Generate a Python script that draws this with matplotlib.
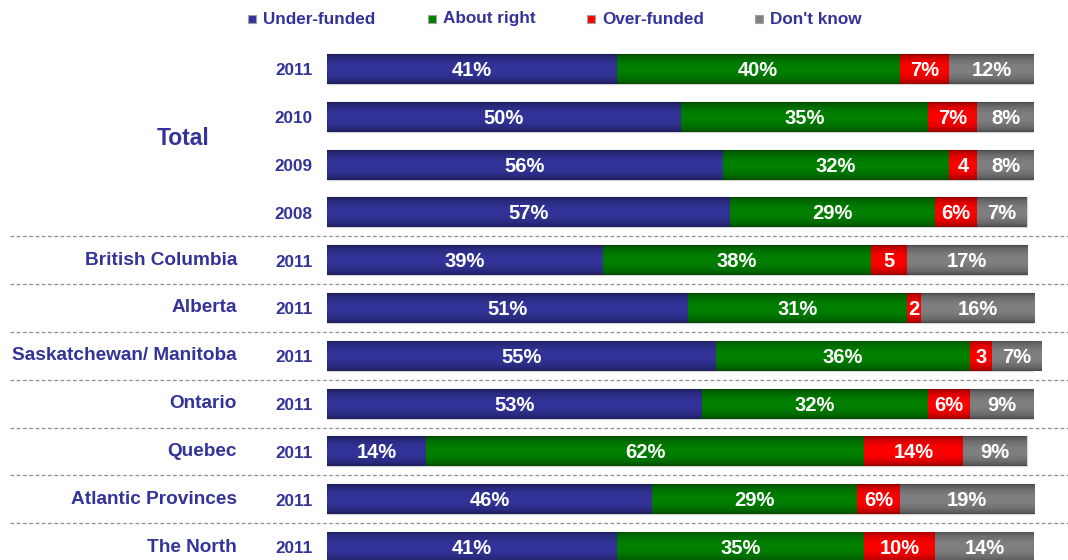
import numpy as np
import matplotlib
matplotlib.use("Agg")
import matplotlib.pyplot as plt
from matplotlib.colors import to_rgb
import matplotlib.transforms as mtransforms

plt.rcParams['font.family'] = ['Liberation Sans', 'DejaVu Sans']

series = ["Under-funded", "About right", "Over-funded", "Don't know"]
years = ["2011", "2010", "2009", "2008", "2011", "2011", "2011", "2011", "2011", "2011", "2011"]
groups = ["Total", "British Columbia", "Alberta", "Saskatchewan/ Manitoba", "Ontario",
          "Quebec", "Atlantic Provinces", "The North"]
under = [41, 50, 56, 57, 39, 51, 55, 53, 14, 46, 41]
right = [40, 35, 32, 29, 38, 31, 36, 32, 62, 29, 35]
over = [7, 7, 4, 6, 5, 2, 3, 6, 14, 6, 10]
dontknow = [12, 8, 8, 7, 17, 16, 7, 9, 9, 19, 14]

colors = ["#333399", "#008000", "#FF0000", "#808080"]
txtcol = "#333399"

W, H = 1068, 560
fig = plt.figure(figsize=(W / 100, H / 100), dpi=100)
row0, step = 69, 47.8
x0, pxpct = 327, 7.07
ax = fig.add_axes([x0 / W, 0, 100 * pxpct / W, 1])
ax.set_xlim(0, 100)
ax.set_ylim((H - row0) / step, -row0 / step)
ax.axis('off')

n = len(years)
ypos = np.arange(n)
bh = 30 / step
data = [under, right, over, dontknow]
left = np.zeros(n)
prof = np.linspace(0, 1, 64)
shade = 0.55 + 0.45 * np.sin(np.pi * prof) ** 0.6
for vals, col in zip(data, colors):
    vals = np.array(vals, dtype=float)
    bars = ax.barh(ypos, vals, left=left, height=bh, color=col,
                   edgecolor="#d8d8d8", linewidth=1.0, zorder=2)
    rgb = np.array(to_rgb(col))
    img = np.clip(shade[:, None, None] * rgb[None, None, :], 0, 1)
    for b in bars:
        x, y, w, h = b.get_x(), b.get_y(), b.get_width(), b.get_height()
        im = ax.imshow(img, extent=(x, x + w, y + h, y), aspect='auto',
                       zorder=2.5, interpolation='bilinear')
        im.set_clip_path(b)
    for yi, (l, v) in enumerate(zip(left, vals)):
        lab = f"{int(v)}%" if v > 5 else f"{int(v)}"
        ax.text(l + v / 2, yi + 0.03, lab, ha='center', va='center', color='white',
                fontsize=14.5, fontweight='bold', zorder=4)
    left += vals
ax.set_ylim((H - row0) / step, -row0 / step)
ax.set_xlim(0, 100)

# year labels
for yi, yr in enumerate(years):
    ax.text(-2.1, yi + 0.04, yr, ha='right', va='center', color=txtcol,
            fontsize=12.3, fontweight='bold', clip_on=False)

# group labels
ax.text((183 - x0) / pxpct, 1.45, groups[0], ha='center', va='center', color=txtcol,
        fontsize=16.5, fontweight='bold', clip_on=False)
for gi, g in enumerate(groups[1:]):
    ax.text((237 - x0) / pxpct, 4 + gi, g, ha='right', va='center', color=txtcol,
            fontsize=13.7, fontweight='bold', clip_on=False)

# separators
trans = mtransforms.blended_transform_factory(fig.transFigure, ax.transData)
for s in [3.5, 4.5, 5.5, 6.5, 7.5, 8.5, 9.5]:
    ax.plot([10 / W, 1.0], [s, s], transform=trans, color="#909090", lw=0.9,
            ls=(0, (3, 2)), clip_on=False)

# legend
leg_sq = [248, 428, 587, 755]
leg_tx = [263, 443, 602, 770]
for lx, tx, lab, col in zip(leg_sq, leg_tx, series, colors):
    fig.patches.append(plt.Rectangle((lx / W, 1 - 23 / H), 8 / W, 8 / H,
                                     transform=fig.transFigure, facecolor=col,
                                     edgecolor="#a0a0a0", lw=0.8))
    fig.text(tx / W, 1 - 19 / H, lab, ha='left', va='center', color=txtcol,
             fontsize=12.3, fontweight='bold')

fig.savefig("out.png", dpi=100)
